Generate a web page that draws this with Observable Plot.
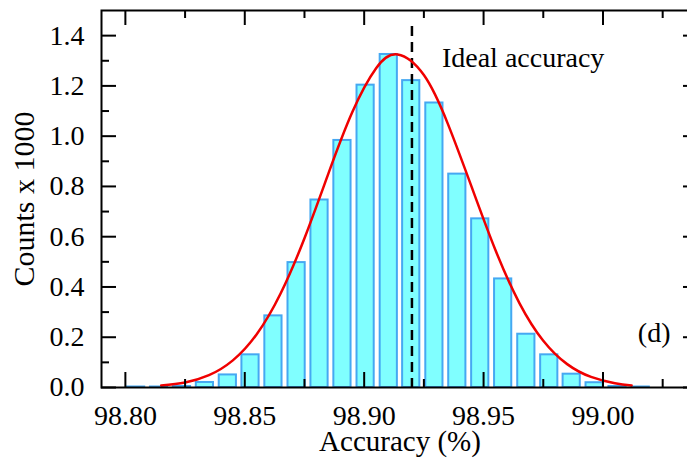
<!DOCTYPE html>
<html>
<head>
<meta charset="utf-8">
<script src="https://cdn.jsdelivr.net/npm/d3@7"></script>
<script src="https://cdn.jsdelivr.net/npm/@observablehq/plot@0.6"></script>
<style>
  html, body { margin: 0; padding: 0; background: #fff; overflow: hidden; }
  #chart { width: 687px; height: 462px; overflow: hidden; }
</style>
</head>
<body>
<div id="chart"></div>
<script>
// Histogram of classification accuracy (counts in thousands)
const binCenters = [98.8045, 98.8141, 98.8237, 98.8333, 98.8429, 98.8524, 98.8620, 98.8717,
  98.8813, 98.8909, 98.9006, 98.9103, 98.9197, 98.9294, 98.9390, 98.9486, 98.9582, 98.9679,
  98.9775, 98.9869, 98.9965, 99.0061, 99.0158];
const binCounts = [0.002, 0.002, 0.004, 0.020, 0.050, 0.130, 0.285, 0.497,
  0.746, 0.983, 1.203, 1.325, 1.221, 1.132, 0.849, 0.671, 0.432, 0.212,
  0.130, 0.053, 0.019, 0.004, 0.002];

// Gaussian fit curve, sampled
const fitX = [98.815, 98.825, 98.835, 98.845, 98.855, 98.865, 98.875, 98.885, 98.895, 98.905,
  98.914, 98.925, 98.935, 98.945, 98.955, 98.965, 98.975, 98.985, 98.995, 99.005, 99.012];
const fitY = [0.008, 0.020, 0.049, 0.108, 0.212, 0.374, 0.594, 0.851, 1.095, 1.270,
  1.325, 1.243, 1.050, 0.798, 0.546, 0.336, 0.186, 0.093, 0.042, 0.017, 0.008];

const idealAccuracy = 98.92;

const xMajor = [98.80, 98.85, 98.90, 98.95, 99.00];
const xMinor = [98.825, 98.875, 98.925, 98.975, 99.025];
const yMajor = [0, 0.2, 0.4, 0.6, 0.8, 1.0, 1.2, 1.4];
const yMinor = [0.1, 0.3, 0.5, 0.7, 0.9, 1.1, 1.3];

const bins = binCenters.map((c, i) => ({c, n: binCounts[i]}));
const fit = fitX.map((x, i) => ({x, y: fitY[i]}));

const W = 698, H = 462;
const mL = 101, mR = 0, mT = 10, mB = 75;
const innerW = W - mL - mR, innerH = H - mT - mB;
const halfBar = 0.0036;
const major = 15, minor = 8;
const tickStyle = {stroke: "black", strokeWidth: 2};

const chart = Plot.plot({
  width: W,
  height: H,
  marginLeft: mL,
  marginRight: mR,
  marginTop: mT,
  marginBottom: mB,
  style: {fontFamily: "'Liberation Serif', 'Times New Roman', serif", background: "white", maxWidth: "none", overflow: "hidden"},
  x: {domain: [98.79, 99.04]},
  y: {domain: [0, 1.5]},
  marks: [
    Plot.rectY(bins, {x1: d => d.c - halfBar, x2: d => d.c + halfBar, y: "n",
      fill: "#80ffff", stroke: "#45a8f2", strokeWidth: 2}),
    Plot.ruleX([idealAccuracy], {stroke: "black", strokeWidth: 2.5, strokeDasharray: "10,6", insetTop: 16}),
    Plot.line(fit, {x: "x", y: "y", stroke: "#f00000", strokeWidth: 2.5, curve: "natural"}),
    // inward ticks on all four sides
    Plot.tickX(xMajor, {x: d => d, insetTop: innerH - major, ...tickStyle}),
    Plot.tickX(xMinor, {x: d => d, insetTop: innerH - minor, ...tickStyle}),
    Plot.tickX(xMajor, {x: d => d, insetBottom: innerH - major, ...tickStyle}),
    Plot.tickX(xMinor, {x: d => d, insetBottom: innerH - minor, ...tickStyle}),
    Plot.tickY(yMajor, {y: d => d, insetRight: innerW - major, ...tickStyle}),
    Plot.tickY(yMinor, {y: d => d, insetRight: innerW - minor, ...tickStyle}),
    Plot.tickY(yMajor, {y: d => d, insetLeft: innerW - major, ...tickStyle}),
    Plot.tickY(yMinor, {y: d => d, insetLeft: innerW - minor, ...tickStyle}),
    Plot.frame({stroke: "black", strokeWidth: 2}),
    Plot.axisX(xMajor, {anchor: "bottom", tickSize: 0, tickPadding: 18, fontSize: 28,
      tickFormat: d3.format(".2f"), fill: "black", label: null}),
    Plot.axisY(yMajor, {anchor: "left", tickSize: 0, tickPadding: 17, fontSize: 28,
      tickFormat: d3.format(".1f"), fill: "black", label: null}),
    Plot.text(["Accuracy (%)"], {frameAnchor: "bottom", dy: 63, fontSize: 29, textAnchor: "middle", fill: "black"}),
    Plot.text(["Counts x 1000"], {frameAnchor: "left", dx: -77, rotate: -90, fontSize: 30,
      textAnchor: "middle", fill: "black"}),
    Plot.text(["Ideal accuracy"], {x: [idealAccuracy], frameAnchor: "top", dx: 30, dy: 37,
      textAnchor: "start", fontSize: 28, fill: "black"}),
    Plot.text(["(d)"], {frameAnchor: "bottom-right", dx: -28, dy: -46, textAnchor: "end",
      fontSize: 28, fill: "black"})
  ]
});

document.getElementById("chart").appendChild(chart);
</script>
</body>
</html>
